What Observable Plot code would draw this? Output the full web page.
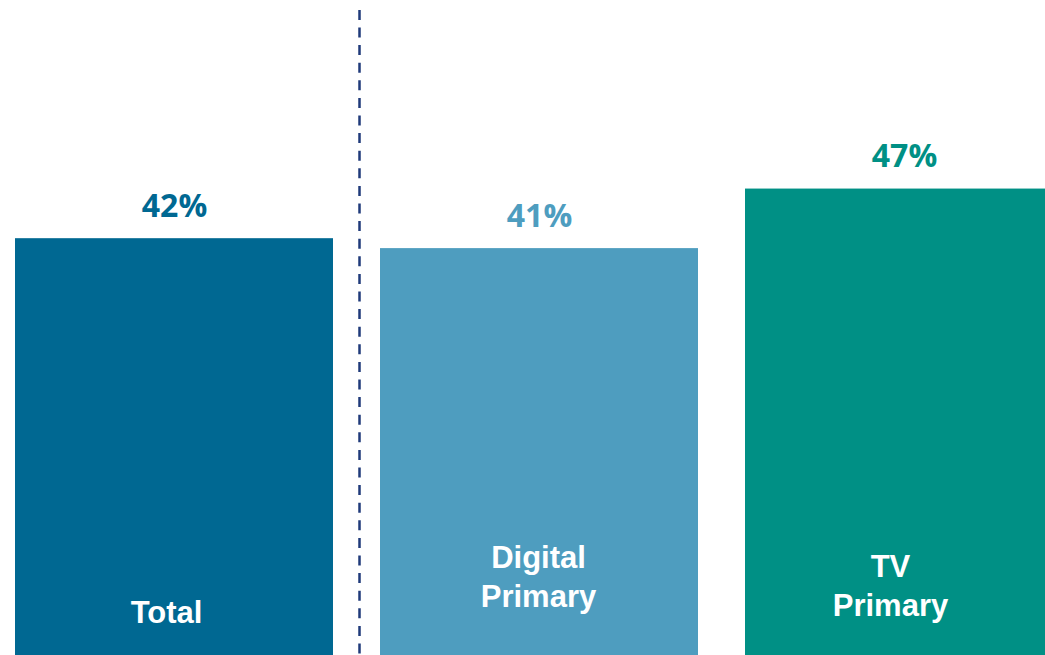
<!DOCTYPE html>
<html>
<head>
<meta charset="utf-8">
<script src="https://cdn.jsdelivr.net/npm/d3@7"></script>
<script src="https://cdn.jsdelivr.net/npm/@observablehq/plot@0.6"></script>
<style>
  html, body { margin: 0; padding: 0; background: #fff; overflow: hidden; }
  #chart { width: 1045px; height: 655px; overflow: hidden; }
  #chart svg { overflow: hidden; }
</style>
</head>
<body>
<div id="chart"></div>
<script>
const categories = ["Total", "Digital Primary", "TV Primary"];
const values = [42, 41, 47];
const labels = ["42%", "41%", "47%"];
const barNames = ["Total", "Digital\nPrimary", "TV\nPrimary"];
const colors = ["#006892", "#4e9dbf", "#009085"];

const data = categories.map((c, i) => ({cat: c, value: values[i], label: labels[i], name: barNames[i]}));
const nameDy = {"Total": -33, "Digital Primary": -49, "TV Primary": -40};
const nameDx = {"Total": -8, "Digital Primary": -1, "TV Primary": -14};

const plot = Plot.plot({
  width: 1045,
  height: 655,
  marginTop: 0, marginBottom: 0, marginLeft: 0, marginRight: 0,
  style: {background: "#fff", overflow: "hidden"},
  x: {domain: categories, range: [14, 1065], paddingInner: 0.1284, paddingOuter: 0, axis: null},
  y: {domain: [0, 66], axis: null},
  color: {domain: categories, range: colors},
  marks: [
    Plot.barY(data, {x: "cat", y: "value", fill: "cat"}),
    Plot.ruleX(["Total"], {x: d => d, y1: 65, y2: 0, dx: 185, stroke: "#1f3a7a", strokeWidth: 2.5, strokeDasharray: "10,7.6"}),
    Plot.text(data, {x: "cat", y: "value", text: "label", fill: "cat", lineAnchor: "bottom", dy: -22,
      fontFamily: "'Open Sans', sans-serif", fontWeight: "bold", fontSize: 32}),
    ...categories.map(c => Plot.text(data.filter(d => d.cat === c), {x: "cat", y: 0, text: "name", fill: "white",
      lineAnchor: "bottom", dy: nameDy[c], dx: nameDx[c], lineHeight: 1.23,
      fontFamily: "'Liberation Sans', Arial, sans-serif", fontWeight: "bold", fontSize: 31}))
  ]
});
document.getElementById("chart").appendChild(plot);
</script>
</body>
</html>
